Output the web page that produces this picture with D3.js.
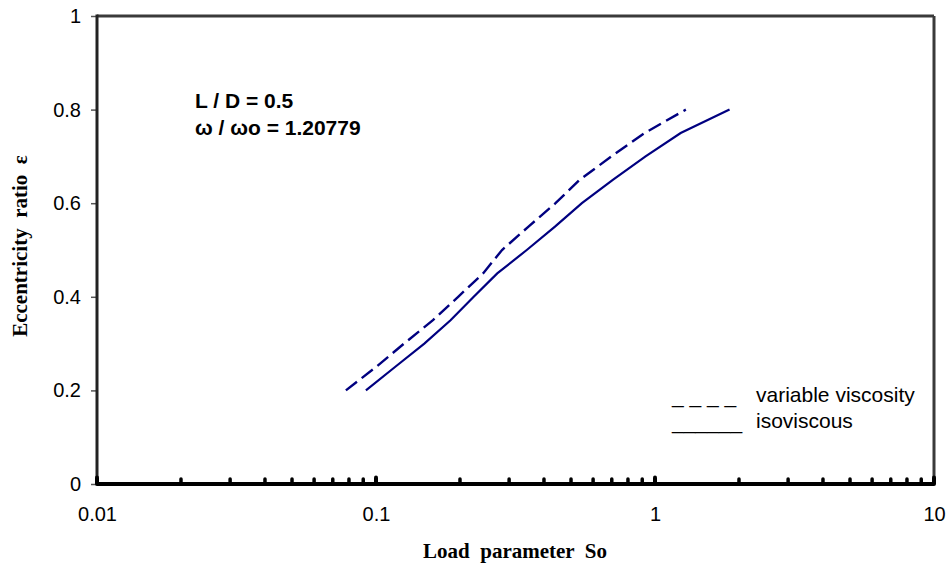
<!DOCTYPE html>
<html>
<head>
<meta charset="utf-8">
<script src="https://cdnjs.cloudflare.com/ajax/libs/d3/7.8.5/d3.min.js"></script>
<style>
  html, body { margin: 0; padding: 0; background: #fff; }
  svg { display: block; }
</style>
</head>
<body>
<svg id="chart" width="951" height="566"></svg>
<script>
// ---- data ----
const epsilon = [0.2, 0.25, 0.3, 0.35, 0.4, 0.45, 0.5, 0.55, 0.6, 0.65, 0.7, 0.75, 0.8];
const soIsoviscous = [0.092, 0.117, 0.149, 0.185, 0.224, 0.272, 0.347, 0.438, 0.547, 0.706, 0.925, 1.236, 1.85];
const soVariable   = [0.078, 0.100, 0.126, 0.160, 0.197, 0.242, 0.283, 0.352, 0.440, 0.537, 0.698, 0.918, 1.29];
const xTickLabels = [0.01, 0.1, 1, 10];
const yTickLabels = [0, 0.2, 0.4, 0.6, 0.8, 1];
const xMinorTicks = [];
[0.01, 0.1, 1].forEach(d => { for (let k = 2; k <= 9; k++) xMinorTicks.push(+(d * k).toPrecision(3)); });
const legendItems = [
  { marker: "_ _ _ _", label: "variable viscosity" },
  { marker: "______", label: "isoviscous" }
];
const annotations = ["L / D = 0.5", "\u03c9 / \u03c9o = 1.20779"];

// ---- layout ----
const svg = d3.select("#chart");
const L = 97, R = 934, T = 16, B = 484;
const x = d3.scaleLog().domain([0.01, 10]).range([L, R]);
const y = d3.scaleLinear().domain([0, 1]).range([B, T]);
const navy = "#000080";
const sans = "Liberation Sans, Arial, sans-serif";
const serif = "Liberation Serif, Times New Roman, serif";

// y axis ticks + labels
const yAxis = d3.axisLeft(y).tickValues(yTickLabels).tickSize(6).tickPadding(10)
  .tickFormat(d => d3.format("~g")(d));
const gy = svg.append("g").attr("transform", `translate(${L},0)`).call(yAxis);
gy.select(".domain").remove();
gy.selectAll(".tick line").attr("stroke", "#555").attr("stroke-width", 1.5);
gy.selectAll(".tick text").attr("font-family", sans)
  .attr("font-size", 20).attr("fill", "#000");

// x axis labels
const xAxis = d3.axisBottom(x).tickValues(xTickLabels).tickSize(0).tickPadding(23)
  .tickFormat(d => d3.format("~g")(d));
const gx = svg.append("g").attr("transform", `translate(0,${B})`).call(xAxis);
gx.select(".domain").remove();
gx.selectAll(".tick text").attr("font-family", sans)
  .attr("font-size", 20).attr("fill", "#000");

// frame
svg.append("line").attr("x1", L).attr("x2", R).attr("y1", T).attr("y2", T)
  .attr("stroke", "#3a3a3a").attr("stroke-width", 3);
svg.append("line").attr("x1", R).attr("x2", R).attr("y1", T).attr("y2", B)
  .attr("stroke", "#3a3a3a").attr("stroke-width", 3);
svg.append("line").attr("x1", L).attr("x2", L).attr("y1", T - 1.5).attr("y2", B)
  .attr("stroke", "#222").attr("stroke-width", 3);
svg.append("line").attr("x1", L).attr("x2", R).attr("y1", B).attr("y2", B)
  .attr("stroke", "#000").attr("stroke-width", 4);

// x tick marks (inside, upward)
svg.append("g").selectAll("line").data(xMinorTicks).join("line")
  .attr("x1", d => x(d)).attr("x2", d => x(d))
  .attr("y1", B).attr("y2", B - 5)
  .attr("stroke", "#000").attr("stroke-width", 3.5).attr("stroke-linecap", "round");
svg.append("g").selectAll("line").data(xTickLabels).join("line")
  .attr("x1", d => x(d)).attr("x2", d => x(d))
  .attr("y1", B).attr("y2", B - 6.5)
  .attr("stroke", "#000").attr("stroke-width", 4).attr("stroke-linecap", "round");

// curves
const line = d3.line().x(d => x(d[0])).y(d => y(d[1]));
svg.append("path").datum(soIsoviscous.map((s, i) => [s, epsilon[i]]))
  .attr("d", line).attr("fill", "none").attr("stroke", navy).attr("stroke-width", 2.2);
svg.append("path").datum(soVariable.map((s, i) => [s, epsilon[i]]))
  .attr("d", line).attr("fill", "none").attr("stroke", navy).attr("stroke-width", 2.4)
  .attr("stroke-dasharray", "14,6");

// annotations
svg.append("g").selectAll("text").data(annotations).join("text")
  .attr("x", 195).attr("y", (d, i) => 108 + i * 27)
  .attr("font-family", sans)
  .attr("font-weight", "bold").attr("font-size", 21).attr("fill", "#000")
  .text(d => d);

// legend
const lg = svg.append("g");
lg.selectAll("text.m").data(legendItems).join("text").attr("class", "m")
  .attr("x", 672).attr("y", (d, i) => 403 + i * 26)
  .attr("font-family", sans)
  .attr("font-size", 21).attr("fill", "#000").text(d => d.marker);
lg.selectAll("text.l").data(legendItems).join("text").attr("class", "l")
  .attr("x", 756).attr("y", (d, i) => 402 + i * 26)
  .attr("font-family", sans)
  .attr("font-size", 21).attr("fill", "#000").text(d => d.label);

// axis titles
svg.append("text").attr("x", 515).attr("y", 558)
  .attr("text-anchor", "middle")
  .attr("font-family", serif)
  .attr("font-weight", "bold").attr("font-size", 21).attr("fill", "#000")
  .attr("xml:space", "preserve")
  .text("Load  parameter  So");
svg.append("text")
  .attr("transform", `translate(27,246) rotate(-90)`)
  .attr("text-anchor", "middle")
  .attr("font-family", serif)
  .attr("font-weight", "bold").attr("font-size", 21).attr("fill", "#000")
  .attr("xml:space", "preserve")
  .text("Eccentricity  ratio  \u03b5");
</script>
</body>
</html>
